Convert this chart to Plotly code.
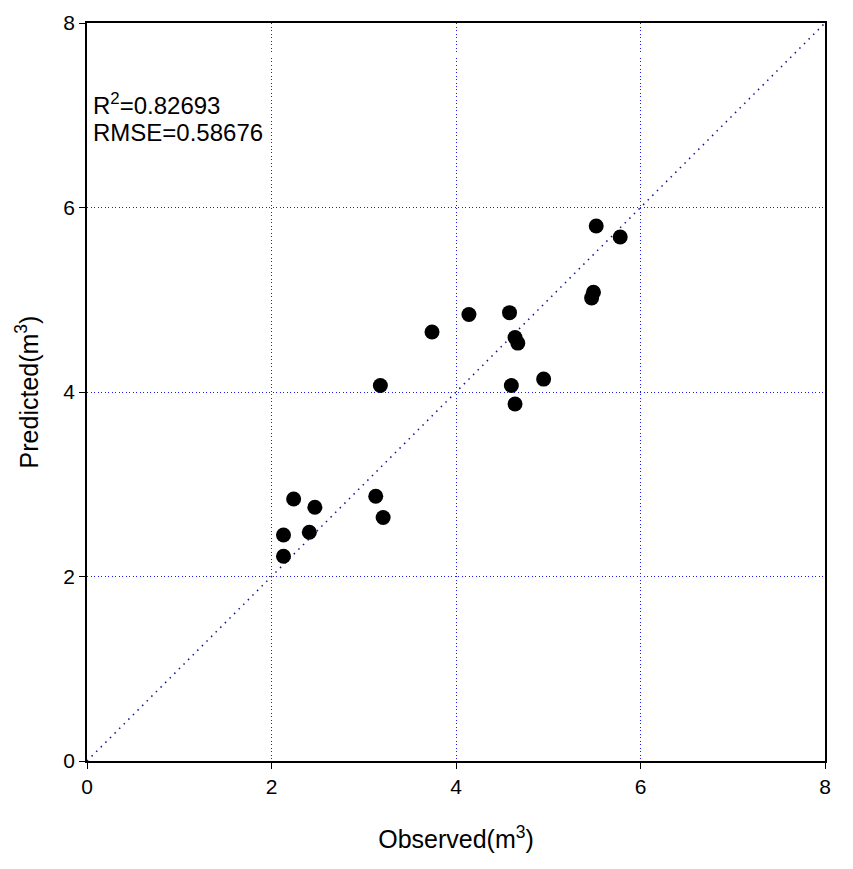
import plotly.graph_objects as go

observed = [2.13, 2.13, 2.24, 2.41, 2.47, 3.13, 3.21, 3.18, 3.74, 4.14,
            4.58, 4.64, 4.67, 4.60, 4.64, 4.95, 5.49, 5.47, 5.52, 5.78]
predicted = [2.22, 2.45, 2.84, 2.48, 2.75, 2.87, 2.64, 4.07, 4.65, 4.84,
             4.86, 4.59, 4.53, 4.07, 3.87, 4.14, 5.08, 5.02, 5.80, 5.68]
line_xy = [0, 8]
tick_vals = [0, 2, 4, 6, 8]
r2_text = "R<sup>2</sup>=0.82693"
rmse_text = "RMSE=0.58676"

FONT = "Liberation Sans, Arial, sans-serif"

fig = go.Figure()
fig.add_trace(go.Scatter(
    x=line_xy, y=line_xy, mode="lines",
    line=dict(color="#10108c", width=1.5, dash="1.5px,5px"),
    hoverinfo="skip", showlegend=False))
fig.add_trace(go.Scatter(
    x=observed, y=predicted, mode="markers",
    marker=dict(color="black", size=15, line=dict(width=0)),
    showlegend=False))

axis_common = dict(
    range=[0, 8], tickvals=tick_vals, ticks="outside", ticklen=6,
    tickcolor="black", tickwidth=1, showline=True, linecolor="black",
    linewidth=1.5, mirror=True, showgrid=True, gridcolor="#1a1aff",
    griddash="1px,2.5px", gridwidth=1.2, zeroline=False,
    tickfont=dict(family=FONT, size=21, color="black"),
)

fig.update_layout(
    width=853, height=869,
    margin=dict(l=87, r=28, t=23, b=108),
    paper_bgcolor="white", plot_bgcolor="white",
    font=dict(family=FONT, color="black"),
    xaxis=dict(axis_common, title=dict(text="Observed(m<sup>3</sup>)",
               font=dict(family=FONT, size=25), standoff=34)),
    yaxis=dict(axis_common, title=dict(text="Predicted(m<sup>3</sup>)",
               font=dict(family=FONT, size=25), standoff=18)),
    annotations=[
        dict(xref="paper", yref="paper", x=0.006, y=0.89,
             xanchor="left", yanchor="middle", align="left", showarrow=False,
             text=r2_text, font=dict(family=FONT, size=24, color="black")),
        dict(xref="paper", yref="paper", x=0.006, y=0.852,
             xanchor="left", yanchor="middle", align="left", showarrow=False,
             text=rmse_text, font=dict(family=FONT, size=24, color="black")),
    ],
)

fig.write_html("out.html")
